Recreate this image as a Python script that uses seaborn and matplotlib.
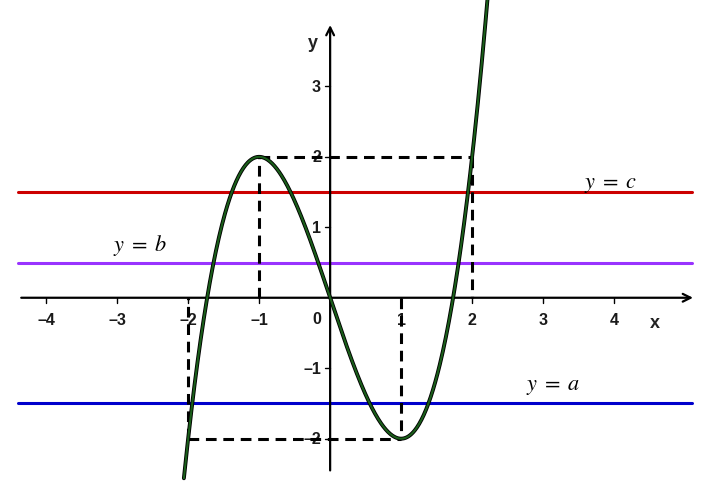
import numpy as np
import pandas as pd
import matplotlib
matplotlib.use("Agg")
import matplotlib.pyplot as plt
import seaborn as sns

sns.set_style("white")
plt.rcParams['font.family'] = ['Liberation Sans', 'DejaVu Sans']
plt.rcParams['mathtext.fontset'] = 'stix'

# data
x_ticks = [-4, -3, -2, -1, 1, 2, 3, 4]
y_ticks = [-2, -1, 1, 2, 3]
line_levels = [1.5, 0.5, -1.5]
line_names = [r"$y\;=\;c$", r"$y\;=\;b$", r"$y\;=\;a$"]
line_colors = ["#cc0000", "#9933ff", "#0000cc"]
label_pos_x = [3.94, -2.68, 3.14]
label_pos_y = [1.62, 0.75, -1.24]
coef = [1, 0, -3, 0]  # y = x^3 - 3x
x_range = [-2.06, 2.22]
extrema_x = [-1, 1]
extrema_y = [2, -2]
mirror_x = [2, -2]

xs = np.linspace(x_range[0], x_range[1], 400)
df = pd.DataFrame({"x": xs, "y": np.polyval(coef, xs)})

fig = plt.figure(figsize=(7.05, 4.89), dpi=100)
ax = fig.add_axes([0, 0, 1, 1])
ax.set_xlim(-4.65, 5.28)
ax.set_ylim(-2.70, 4.24)
ax.axis("off")

xl, xr = -4.39, 5.1
yb, yt = -2.49, 3.86

# colored horizontal lines
for lev, name, col, lx, ly in zip(line_levels, line_names, line_colors, label_pos_x, label_pos_y):
    ax.plot([xl, xr], [lev, lev], color=col, lw=2.2, zorder=2)
    ax.text(lx, ly, name, fontsize=16, ha="center", va="center", color="black")

# axes
ax.annotate("", xy=(xr + 0.05, 0), xytext=(xl, 0),
            arrowprops=dict(arrowstyle="->", lw=1.6, color="black", mutation_scale=14), zorder=3)
ax.annotate("", xy=(0, yt + 0.05), xytext=(0, yb),
            arrowprops=dict(arrowstyle="->", lw=1.6, color="black", mutation_scale=14), zorder=3)
ax.text(4.57, -0.35, "x", fontsize=13, fontweight="bold", ha="center", va="center", color="#222222")
ax.text(-0.24, 3.62, "y", fontsize=13, fontweight="bold", ha="center", va="center", color="#222222")

tk = dict(fontsize=11.5, color="#1a1a1a", fontweight="bold")
for t in x_ticks:
    ax.plot([t, t], [-0.07, 0.0], color="black", lw=1, zorder=3)
    ax.text(t, -0.31, "\u2013%d" % -t if t < 0 else str(t), ha="center", va="center", **tk)
ax.text(-0.19, -0.3, "0", ha="center", va="center", **tk)
for t in y_ticks:
    ax.plot([-0.07, 0.0], [t, t], color="black", lw=1, zorder=3)
    ax.text(-0.13, t, "\u2013%d" % -t if t < 0 else str(t), ha="right", va="center", **tk)

# dashed guides
dk = dict(color="black", lw=2.2, ls=(0, (3.5, 2.2)), zorder=4)
ax.plot([extrema_x[0], extrema_x[0]], [0, extrema_y[0]], **dk)
ax.plot([extrema_x[0], mirror_x[0]], [extrema_y[0], extrema_y[0]], **dk)
ax.plot([mirror_x[0], mirror_x[0]], [extrema_y[0], 0], **dk)
ax.plot([extrema_x[1], extrema_x[1]], [0, extrema_y[1]], **dk)
ax.plot([mirror_x[1], extrema_x[1]], [extrema_y[1], extrema_y[1]], **dk)
ax.plot([mirror_x[1], mirror_x[1]], [extrema_y[1], 0], **dk)

# curve
sns.lineplot(data=df, x="x", y="y", ax=ax, color="black", lw=2.8, zorder=5, sort=False)
sns.lineplot(data=df, x="x", y="y", ax=ax, color="#1a5e1a", lw=1.5, zorder=6, sort=False)

fig.savefig("out.png", dpi=100)
